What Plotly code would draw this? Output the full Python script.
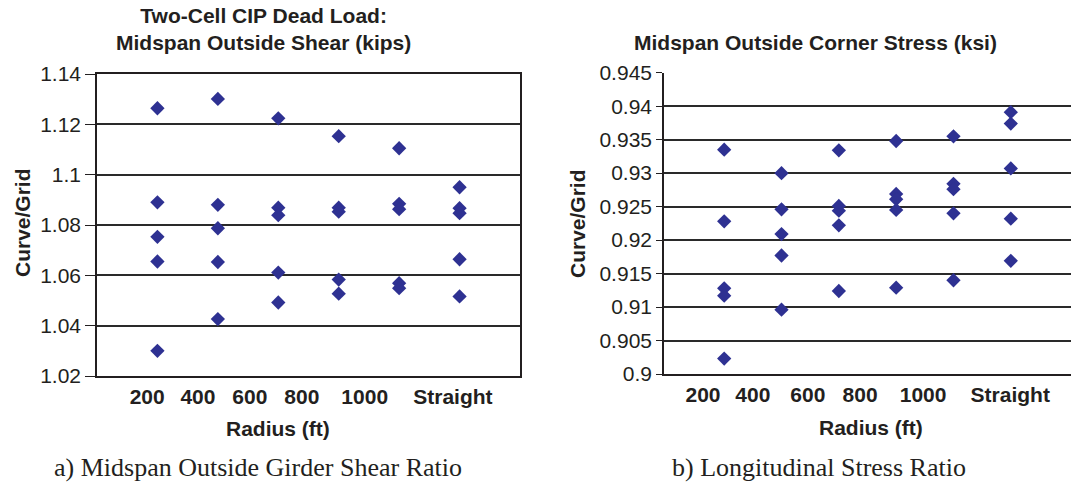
import plotly.graph_objects as go

# ---------------- data ----------------
radius_labels = ["200", "400", "600", "800", "1000", "Straight"]
group_index = [1, 2, 3, 4, 5, 6]

# (a) Midspan outside girder shear ratio, five cases per radius group
shear_ratio = [
    [1.1264, 1.0890, 1.0753, 1.0655, 1.0300],
    [1.1301, 1.0880, 1.0787, 1.0653, 1.0426],
    [1.1224, 1.0869, 1.0839, 1.0611, 1.0492],
    [1.1153, 1.0869, 1.0853, 1.0583, 1.0527],
    [1.1105, 1.0884, 1.0863, 1.0569, 1.0549],
    [1.0950, 1.0867, 1.0847, 1.0664, 1.0516],
]

# (b) Longitudinal (corner) stress ratio
stress_ratio = [
    [0.9335, 0.9228, 0.9128, 0.9117, 0.9023],
    [0.9300, 0.9246, 0.9209, 0.9177, 0.9096],
    [0.9334, 0.9251, 0.9244, 0.9222, 0.9124],
    [0.9348, 0.9269, 0.9261, 0.9245, 0.9129],
    [0.9355, 0.9284, 0.9276, 0.9240, 0.9140],
    [0.9391, 0.9374, 0.9307, 0.9232, 0.9169],
]

# tick label positions (labels in the original are offset from the point columns)
shear_tick_pos = [0.83, 1.67, 2.53, 3.39, 4.43, 5.89]
stress_tick_pos = [0.63, 1.50, 2.46, 3.37, 4.47, 5.99]

shear_ticks = [1.02, 1.04, 1.06, 1.08, 1.10, 1.12, 1.14]
shear_ticktext = ["1.02", "1.04", "1.06", "1.08", "1.1", "1.12", "1.14"]
stress_ticks = [0.9, 0.905, 0.91, 0.915, 0.92, 0.925, 0.93, 0.935, 0.94, 0.945]
stress_ticktext = ["0.9", "0.905", "0.91", "0.915", "0.92", "0.925", "0.93",
                   "0.935", "0.94", "0.945"]

# ---------------- figure ----------------
W, H = 1071, 483
MARK = "#2e3192"
INK = "#231f20"
SANS = "Liberation Sans, Arial, sans-serif"
SERIF = "Liberation Serif, Times New Roman, serif"


def flat(groups, values):
    xs, ys = [], []
    for g, vals in zip(groups, values):
        for v in vals:
            xs.append(g)
            ys.append(v)
    return xs, ys


fig = go.Figure()
sx, sy = flat(group_index, shear_ratio)
fig.add_trace(go.Scatter(x=sx, y=sy, mode="markers", xaxis="x", yaxis="y",
                         marker=dict(symbol="diamond", size=11, color=MARK),
                         showlegend=False, hoverinfo="x+y"))
tx, ty = flat(group_index, stress_ratio)
fig.add_trace(go.Scatter(x=tx, y=ty, mode="markers", xaxis="x2", yaxis="y2",
                         marker=dict(symbol="diamond", size=11, color=MARK),
                         showlegend=False, hoverinfo="x+y"))


def px(x):
    return x / W


def py(y):
    return 1 - y / H


axis_common = dict(showline=True, linecolor="#231f20", linewidth=1.6,
                   automargin=False)
fig.update_layout(
    width=W, height=H,
    margin=dict(l=0, r=0, t=0, b=0, autoexpand=False),
    paper_bgcolor="white", plot_bgcolor="white",
    font=dict(family=SANS, size=21, color=INK),
    xaxis=dict(domain=[px(97), px(520)], range=[0, 7], anchor="y",
               tickmode="array", tickvals=shear_tick_pos, ticktext=radius_labels,
               tickfont=dict(family=SANS, size=21, color=INK, weight="bold"),
               ticks="outside", ticklen=1, tickcolor="rgba(0,0,0,0)",
               showgrid=False, zeroline=False, mirror=True, **axis_common),
    yaxis=dict(domain=[py(376), py(74)], range=[1.02, 1.14], anchor="x",
               tickmode="array", tickvals=shear_ticks, ticktext=shear_ticktext,
               ticks="outside", ticklen=10, tickcolor="#231f20", tickwidth=1.4,
               showgrid=True, gridcolor="#2a2a2a", gridwidth=1.5,
               zeroline=False, mirror=True, **axis_common),
    xaxis2=dict(domain=[px(664), 1.0], range=[-0.05, 7.05], anchor="y2",
                tickmode="array", tickvals=stress_tick_pos, ticktext=radius_labels,
                tickfont=dict(family=SANS, size=21, color=INK, weight="bold"),
                ticks="outside", ticklen=1, tickcolor="rgba(0,0,0,0)",
                showgrid=False, zeroline=False, **axis_common),
    yaxis2=dict(domain=[py(374), py(72.7)], range=[0.9, 0.945], anchor="x2",
                tickmode="array", tickvals=stress_ticks, ticktext=stress_ticktext,
                ticks="outside", ticklen=6, tickcolor="#231f20", tickwidth=1.4,
                showgrid=True, gridcolor="#2a2a2a", gridwidth=1.5,
                zeroline=False, **axis_common),
)

ann = []


def text(x, y, s, size=21, bold=True, family=SANS, angle=0):
    ann.append(dict(x=px(x), y=py(y), xref="paper", yref="paper", text=s,
                    showarrow=False, xanchor="center", yanchor="middle",
                    textangle=angle,
                    font=dict(family=family, size=size, color=INK,
                              weight="bold" if bold else "normal")))


text(263, 29.5, "Two-Cell CIP Dead Load:<br>Midspan Outside Shear (kips)")
text(815, 43, "Midspan Outside Corner Stress (ksi)")
text(278, 428, "Radius (ft)")
text(871, 427, "Radius (ft)")
text(22, 223, "Curve/Grid", angle=-90)
text(577, 224, "Curve/Grid", angle=-90)
text(258, 467, "a) Midspan Outside Girder Shear Ratio", size=26, bold=False, family=SERIF)
text(819, 467, "b) Longitudinal Stress Ratio", size=26, bold=False, family=SERIF)
fig.update_layout(annotations=ann)

fig.write_html(
    "out.html",
    config={"displayModeBar": False},
    post_script="document.body.style.margin='0';document.body.style.overflow='hidden';",
)
